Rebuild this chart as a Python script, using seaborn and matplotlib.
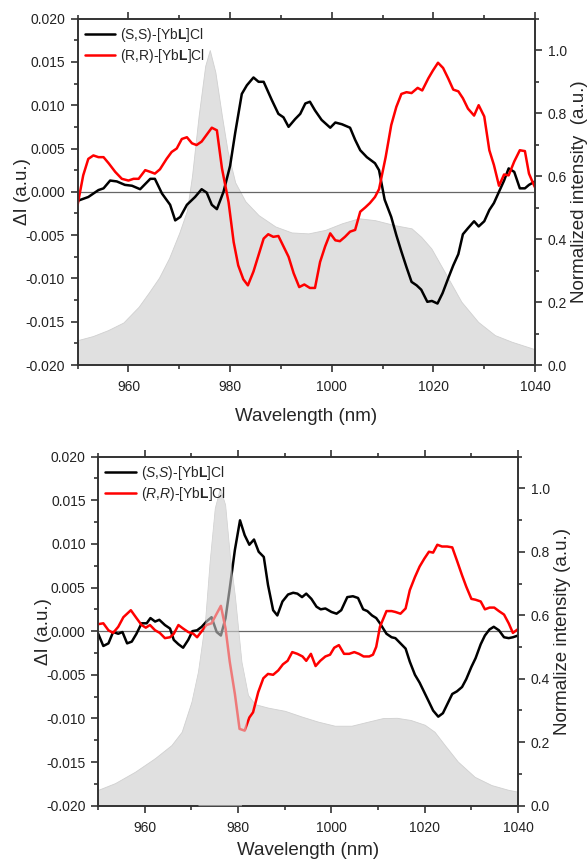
import numpy as np
import pandas as pd
import seaborn as sns
import matplotlib.pyplot as plt
from matplotlib.ticker import MultipleLocator, FormatStrFormatter

# top panel: (S,S) / (R,R) differential signal and emission profile
top_ss_x = [950.2, 952.1, 954.1, 955.1, 956.4, 957.7, 959.3, 960.7, 962.3, 964.3, 965.2, 966.6,
            968.2, 969.2, 970.2, 971.5, 973.1, 974.4, 975.4, 976.4, 977.4, 978.7, 980.0, 981.0,
            982.3, 983.3, 984.6, 985.6, 986.6, 988.2, 989.5, 990.5, 991.5, 992.8, 993.8, 994.8,
            995.7, 996.7, 998.0, 999.7, 1000.7, 1002.0, 1003.6, 1004.6, 1005.6, 1006.9, 1008.5,
            1009.3, 1010.4, 1011.7, 1012.7, 1013.7, 1014.7, 1015.7, 1016.7, 1017.6, 1018.8,
            1019.7, 1020.8, 1021.8, 1022.9, 1023.9, 1024.9, 1025.8, 1026.8, 1028.0, 1028.9,
            1030.0, 1031.0, 1031.9, 1032.9, 1033.9, 1034.8, 1035.9, 1037.0, 1038.0, 1038.8, 1040.0]
top_ss_y = [-0.0010, -0.0006, 0.0002, 0.0004, 0.0013, 0.0012, 0.0008, 0.0007, 0.0003, 0.0015, 0.0015,
            -0.0002, -0.0015, -0.0033, -0.0029, -0.0015, -0.0006, 0.0003, -0.0001, -0.0015, -0.0020,
            0.0000, 0.0030, 0.0068, 0.0113, 0.0123, 0.0132, 0.0127, 0.0127, 0.0106, 0.0090, 0.0086,
            0.0075, 0.0084, 0.0090, 0.0102, 0.0104, 0.0094, 0.0083, 0.0074, 0.0080, 0.0078, 0.0074,
            0.0060, 0.0048, 0.0040, 0.0033, 0.0025, -0.0009, -0.0029, -0.0050, -0.0069, -0.0087,
            -0.0104, -0.0108, -0.0113, -0.0127, -0.0126, -0.0129, -0.0117, -0.0100, -0.0085, -0.0072,
            -0.0049, -0.0042, -0.0034, -0.0040, -0.0034, -0.0021, -0.0013, 0.0000, 0.0013, 0.0027,
            0.0023, 0.0004, 0.0004, 0.0008, 0.0012]

top_rr_x = [950.0, 951.1, 952.1, 953.1, 954.1, 955.1, 956.1, 957.4, 958.7, 960.0, 961.0, 962.0,
            963.3, 964.3, 965.2, 966.2, 967.5, 968.5, 969.5, 970.5, 971.5, 972.5, 973.4, 974.4,
            975.4, 976.4, 977.4, 978.4, 979.7, 980.7, 981.6, 982.6, 983.5, 984.6, 985.6, 986.6,
            987.5, 988.5, 989.5, 990.5, 991.5, 992.5, 993.6, 994.6, 995.7, 996.7, 997.7, 998.7,
            999.7, 1000.7, 1001.6, 1002.6, 1003.6, 1004.6, 1005.6, 1006.6, 1007.5, 1008.5, 1009.3,
            1010.6, 1011.7, 1012.7, 1013.7, 1014.7, 1015.7, 1016.9, 1017.8, 1019.0, 1019.9, 1020.9,
            1021.9, 1022.9, 1023.9, 1024.9, 1025.8, 1026.8, 1028.0, 1028.9, 1030.0, 1031.0, 1031.9,
            1032.9, 1033.9, 1034.8, 1035.9, 1037.0, 1038.0, 1038.8, 1039.6, 1040.0]
top_rr_y = [-0.0015, 0.0019, 0.0038, 0.0042, 0.0040, 0.0040, 0.0033, 0.0023, 0.0015, 0.0013, 0.0015,
            0.0015, 0.0025, 0.0023, 0.0021, 0.0026, 0.0038, 0.0046, 0.0050, 0.0061, 0.0063, 0.0056,
            0.0054, 0.0058, 0.0066, 0.0074, 0.0071, 0.0027, -0.0012, -0.0058, -0.0085, -0.0101,
            -0.0108, -0.0092, -0.0073, -0.0054, -0.0049, -0.0052, -0.0051, -0.0063, -0.0075, -0.0094,
            -0.0110, -0.0107, -0.0111, -0.0111, -0.0081, -0.0063, -0.0048, -0.0056, -0.0057, -0.0052,
            -0.0046, -0.0044, -0.0023, -0.0018, -0.0013, -0.0006, 0.0003, 0.0040, 0.0077, 0.0098,
            0.0113, 0.0115, 0.0114, 0.0120, 0.0117, 0.0131, 0.0140, 0.0149, 0.0143, 0.0131, 0.0118,
            0.0116, 0.0108, 0.0096, 0.0088, 0.0100, 0.0087, 0.0048, 0.0031, 0.0007, 0.0020, 0.0019,
            0.0035, 0.0048, 0.0047, 0.0021, 0.0010, 0.0005]

top_em_x = [950, 953, 956, 959, 962, 964, 966, 968, 970, 971.5, 972.5, 973.8, 975.1, 976.0, 977.1,
            978.4, 979.5, 981.0, 983.0, 985.6, 988.9, 992.1, 995.4, 998.7, 1002, 1005.3, 1008.5,
            1012.4, 1015.7, 1017.6, 1019.6, 1022.2, 1025.5, 1028.8, 1032.1, 1035.4, 1040]
top_em_y = [0.079, 0.092, 0.111, 0.135, 0.185, 0.23, 0.277, 0.34, 0.42, 0.49, 0.60, 0.79, 0.95, 1.0,
            0.93, 0.79, 0.68, 0.58, 0.52, 0.476, 0.44, 0.421, 0.418, 0.429, 0.45, 0.466, 0.46, 0.444,
            0.434, 0.407, 0.37, 0.296, 0.201, 0.137, 0.095, 0.074, 0.05]

# bottom panel
bot_ss_x = [950.0, 951.1, 952.2, 953.2, 954.3, 955.2, 956.2, 957.2, 958.2, 959.3, 960.4, 961.2,
            962.2, 963.1, 964.3, 965.4, 966.2, 967.2, 968.2, 969.3, 970.2, 971.2, 972.2, 973.2,
            974.3, 975.4, 976.3, 977.3, 978.2, 979.3, 980.4, 981.4, 982.4, 983.4, 984.4, 985.5,
            986.4, 987.5, 988.4, 989.5, 990.7, 991.8, 992.7, 993.7, 994.6, 995.7, 996.8, 997.7,
            998.7, 1000.0, 1001.1, 1002.1, 1003.4, 1004.6, 1005.7, 1006.8, 1007.7, 1008.7, 1009.6,
            1010.4, 1011.8, 1012.9, 1013.7, 1014.8, 1015.9, 1016.8, 1017.9, 1018.9, 1019.9, 1020.9,
            1021.8, 1022.9, 1023.9, 1024.9, 1025.9, 1026.9, 1028.0, 1028.9, 1030.0, 1030.9, 1032.0,
            1032.9, 1033.9, 1034.8, 1035.9, 1037.0, 1038.0, 1038.9, 1040.0]
bot_ss_y = [-0.0003, -0.0017, -0.0014, -0.0001, -0.0003, -0.0001, -0.0014, -0.0012, -0.0003, 0.0009,
            0.0009, 0.0015, 0.0011, 0.0013, 0.0007, 0.0003, -0.0010, -0.0015, -0.0019, -0.0010, 0.0000,
            0.0001, 0.0005, 0.0011, 0.0016, -0.0001, -0.0005, 0.0015, 0.0049, 0.0093, 0.0127, 0.0110,
            0.0099, 0.0105, 0.0091, 0.0085, 0.0053, 0.0024, 0.0018, 0.0034, 0.0042, 0.0044, 0.0043,
            0.0039, 0.0043, 0.0037, 0.0028, 0.0025, 0.0026, 0.0022, 0.0020, 0.0024, 0.0039, 0.0040,
            0.0038, 0.0025, 0.0023, 0.0018, 0.0015, 0.0009, -0.0003, -0.0007, -0.0008, -0.0014,
            -0.0020, -0.0035, -0.0050, -0.0059, -0.0070, -0.0081, -0.0091, -0.0098, -0.0094, -0.0083,
            -0.0072, -0.0069, -0.0064, -0.0055, -0.0041, -0.0031, -0.0015, -0.0005, 0.0002, 0.0005,
            0.0001, -0.0007, -0.0008, -0.0007, -0.0005]

bot_rr_x = [950.0, 951.1, 952.2, 953.2, 954.3, 955.4, 957.0, 958.2, 959.3, 960.2, 961.1, 962.2,
            963.2, 964.3, 965.4, 966.2, 967.2, 968.2, 969.3, 970.4, 971.2, 972.2, 973.2, 974.3,
            975.4, 976.3, 977.3, 978.2, 979.3, 980.3, 981.4, 982.4, 983.2, 984.3, 985.4, 986.4,
            987.5, 988.6, 989.6, 990.6, 991.6, 992.7, 993.8, 994.6, 995.6, 996.6, 997.6, 998.7,
            999.7, 1000.6, 1001.6, 1002.7, 1003.8, 1004.9, 1005.9, 1006.9, 1008.1, 1008.9, 1009.6,
            1010.4, 1011.8, 1012.9, 1013.7, 1014.8, 1015.9, 1016.8, 1017.9, 1018.9, 1019.9, 1020.9,
            1021.8, 1022.7, 1023.7, 1024.8, 1025.9, 1026.9, 1028.0, 1028.9, 1030.0, 1030.9, 1032.0,
            1032.9, 1033.9, 1034.9, 1035.9, 1037.0, 1038.0, 1038.9, 1039.9]
bot_rr_y = [0.0008, 0.0009, 0.0001, -0.0002, 0.0005, 0.0016, 0.0024, 0.0015, 0.0007, 0.0004, 0.0007,
            0.0001, -0.0002, -0.0008, -0.0007, -0.0003, 0.0007, 0.0003, -0.0001, -0.0003, -0.0007,
            0.0000, 0.0007, 0.0009, 0.0020, 0.0029, 0.0003, -0.0035, -0.0072, -0.0112, -0.0114,
            -0.0099, -0.0093, -0.0070, -0.0054, -0.0049, -0.0050, -0.0045, -0.0038, -0.0034, -0.0024,
            -0.0026, -0.0029, -0.0034, -0.0026, -0.0040, -0.0034, -0.0029, -0.0027, -0.0019, -0.0016,
            -0.0026, -0.0026, -0.0024, -0.0026, -0.0029, -0.0029, -0.0027, -0.0018, 0.0005, 0.0023,
            0.0023, 0.0022, 0.0020, 0.0026, 0.0047, 0.0062, 0.0074, 0.0083, 0.0091, 0.0090, 0.0099,
            0.0097, 0.0097, 0.0096, 0.0081, 0.0064, 0.0051, 0.0037, 0.0036, 0.0034, 0.0025, 0.0027,
            0.0027, 0.0023, 0.0019, 0.0009, -0.0002, 0.0002]

bot_em_x = [950, 953.6, 957.9, 962.2, 965.7, 967.9, 970.0, 971.4, 972.9, 973.9, 975.0, 976.1, 977.2,
            978.2, 979.3, 980.7, 982.1, 983.6, 986.4, 990.0, 993.6, 997.1, 1000.7, 1004.3, 1007.9,
            1011, 1014, 1017, 1020.0, 1022.1, 1024.3, 1027.1, 1030.7, 1034.3, 1037.9, 1040]
bot_em_y = [0.05, 0.071, 0.107, 0.15, 0.191, 0.233, 0.328, 0.423, 0.58, 0.77, 0.938, 1.0, 0.949,
            0.79, 0.66, 0.454, 0.349, 0.32, 0.309, 0.299, 0.281, 0.265, 0.252, 0.252, 0.265, 0.276,
            0.277, 0.27, 0.255, 0.233, 0.191, 0.139, 0.091, 0.065, 0.05, 0.044]

top_labels = [r'(S,S)-[Yb$\mathbf{L}$]Cl', r'(R,R)-[Yb$\mathbf{L}$]Cl']
bot_labels = [r'($\mathit{S}$,$\mathit{S}$)-[Yb$\mathbf{L}$]Cl',
              r'($\mathit{R}$,$\mathit{R}$)-[Yb$\mathbf{L}$]Cl']

sns.set_style('ticks')
plt.rcParams['font.family'] = ['Liberation Sans', 'DejaVu Sans']
plt.rcParams['mathtext.fontset'] = 'custom'
plt.rcParams['mathtext.rm'] = 'Liberation Sans'
plt.rcParams['mathtext.it'] = 'Liberation Sans:italic'
plt.rcParams['mathtext.bf'] = 'Liberation Sans:bold'


def panel(ax, ss_x, ss_y, rr_x, rr_y, em_x, em_y, labels, rlabel, fade=False, xpad=10):
    axr = ax.twinx()
    axr.fill_between(em_x, em_y, 0, color='#e0e0e0', lw=0.6, edgecolor='#d0d0d0')
    ax.set_zorder(axr.get_zorder() + 1)
    ax.patch.set_visible(False)

    ax.axhline(0, color='#666666', lw=0.9, zorder=1)
    sns.lineplot(x=ss_x, y=ss_y, ax=ax, color='black', lw=1.8, label=labels[0],
                 sort=False, estimator=None)
    sns.lineplot(x=rr_x, y=rr_y, ax=ax, color='#ff0000', lw=1.8, label=labels[1],
                 sort=False, estimator=None)
    if fade:
        # the sharp peak sits over the curves in this panel
        ex = np.array(em_x)
        ax.fill_between(em_x, em_y, 0, where=(ex > 970) & (ex < 981), interpolate=True,
                        transform=axr.transData, color='#e0e0e0', alpha=0.55, lw=0, zorder=5)

    ax.set_xlim(950, 1040)
    ax.set_ylim(-0.02, 0.02)
    axr.set_ylim(0, 1.1)
    ax.xaxis.set_major_locator(MultipleLocator(20))
    ax.xaxis.set_minor_locator(MultipleLocator(10))
    ax.yaxis.set_major_locator(MultipleLocator(0.005))
    ax.yaxis.set_minor_locator(MultipleLocator(0.0025))
    ax.yaxis.set_major_formatter(FormatStrFormatter('%.3f'))
    axr.yaxis.set_major_locator(MultipleLocator(0.2))
    axr.yaxis.set_minor_locator(MultipleLocator(0.1))
    axr.yaxis.set_major_formatter(FormatStrFormatter('%.1f'))

    for a in (ax, axr):
        a.tick_params(which='both', direction='out', labelsize=10, colors='#222222', width=1.1)
        a.tick_params(which='major', length=5, pad=4)
        a.tick_params(which='minor', length=3)
        for s in a.spines.values():
            s.set_color('#333333')
            s.set_linewidth(1.2)
    ax.tick_params(which='both', top=True, right=False)
    ax.tick_params(axis='x', which='major', pad=6)

    ax.set_xlabel('Wavelength (nm)', fontsize=13.5, labelpad=xpad)
    ax.set_ylabel('ΔI (a.u.)', fontsize=13.5, labelpad=-4)
    axr.set_ylabel(rlabel, fontsize=13.5, labelpad=3)

    ax.legend(loc='upper left', frameon=False, fontsize=10, handlelength=2.2,
              handletextpad=0.35, labelspacing=0.25, borderpad=0.3, borderaxespad=0.2)
    return axr


fig = plt.figure(figsize=(5.88, 8.64), dpi=100)
ax_top = fig.add_axes([0.132, 0.5775, 0.778, 0.401])
ax_bot = fig.add_axes([0.167, 0.0675, 0.714, 0.404])

panel(ax_top, top_ss_x, top_ss_y, top_rr_x, top_rr_y, top_em_x, top_em_y,
      top_labels, 'Normalized intensity  (a.u.)')
panel(ax_bot, bot_ss_x, bot_ss_y, bot_rr_x, bot_rr_y, bot_em_x, bot_em_y,
      bot_labels, 'Normalize intensity (a.u.)', fade=True, xpad=5)

fig.savefig('out.png', dpi=100)
